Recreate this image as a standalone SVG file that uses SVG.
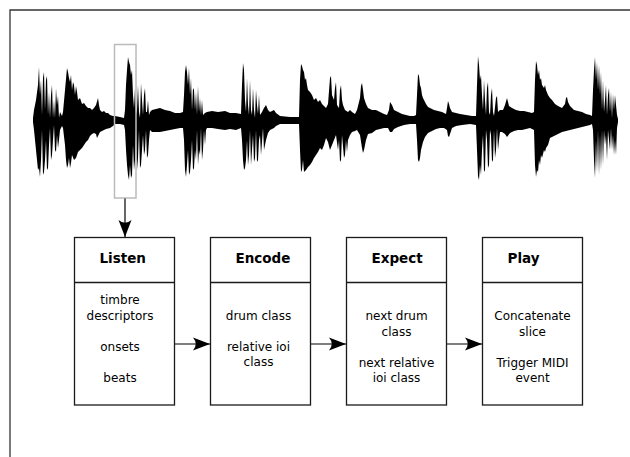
<svg xmlns="http://www.w3.org/2000/svg" width="630" height="457" viewBox="0 0 630 457">
<style>
.frame{fill:none;stroke:#333;stroke-width:1.3}
.box{fill:#fff;stroke:#1a1a1a;stroke-width:1.3}
.div{stroke:#1a1a1a;stroke-width:1.3}
.hdr{font-family:"DejaVu Sans",sans-serif;font-weight:bold;font-size:13.5px;fill:#000}
.body{font-family:"DejaVu Sans",sans-serif;font-size:12px;fill:#000;text-anchor:middle}
.conn{fill:none;stroke:#000;stroke-width:1.2;marker-end:url(#ah)}
.sel{fill:none;stroke:#bbb;stroke-width:1.5}
</style>
<defs>
<marker id="ah" markerUnits="userSpaceOnUse" refX="0" refY="0" markerWidth="40" markerHeight="40" orient="auto" overflow="visible">
<path d="M0,0 L-17,-6.5 Q-11.5,0 -17,6.5 Z" fill="#000"/>
</marker>
</defs>
<rect width="630" height="457" fill="#fff"/>
<path class="frame" d="M10,457 L10,10 L630,10"/>
<g id="waveform">
<path fill="#000" d="M33,118 L34,110 L36,100 L38,85 L39,67 L40,95 L41,80 L42,115 L43,78 L44,72 L45,110 L46,80 L47,76 L48,115 L49,92 L50,118 L51,95 L52,85 L53,118 L54,100 L55,118 L56,88 L57,105 L58,96 L59,118 L60,112 L62,116 L63,112 L65,90 L67,68 L68,72 L69,78 L70,82 L71,75 L72,90 L73,82 L74,85 L75,95 L76,86 L77,92 L78,100 L80,98 L82,104 L84,103 L86,106 L88,108 L90,108 L92,110 L94,108 L96,105 L98,98 L99,105 L100,110 L102,112 L104,111 L106,113 L108,113 L110,115 L113,116 L115,116 L120,117 L124,118 L125,110 L126,85 L127,70 L128,57 L129,62 L130,65 L131,75 L132,70 L133,95 L134,108 L135,88 L136,115 L137,110 L138,85 L139,112 L140,118 L141,83 L142,100 L143,115 L144,95 L145,88 L146,112 L147,112 L148,100 L149,115 L150,112 L152,110 L156,109 L160,108 L165,110 L170,111 L175,113 L180,113 L183,112 L184,95 L185,72 L186,65 L187,72 L188,85 L189,68 L190,95 L191,78 L192,110 L193,88 L194,90 L195,110 L196,92 L197,115 L198,86 L199,112 L200,98 L201,115 L202,100 L203,115 L205,113 L207,112 L212,111 L218,112 L225,111 L230,113 L236,113 L241,114 L242,85 L243,63 L244,70 L245,100 L246,112 L247,78 L248,105 L249,115 L250,80 L251,110 L252,115 L253,88 L254,110 L255,118 L256,90 L257,105 L258,114 L259,95 L260,115 L262,112 L264,108 L266,105 L268,110 L270,112 L274,110 L276,113 L280,116 L290,117 L299,117 L300,80 L301,64 L302,66 L303,70 L304,72 L305,80 L306,78 L307,85 L308,90 L310,92 L312,95 L314,100 L316,98 L318,102 L320,100 L322,104 L324,106 L326,108 L328,104 L330,78 L331,76 L332,95 L334,100 L335,88 L336,82 L337,105 L339,108 L340,90 L341,85 L342,100 L343,105 L345,110 L348,112 L350,110 L352,112 L355,114 L357,110 L360,98 L361,86 L362,83 L363,90 L364,98 L366,104 L368,108 L372,110 L376,110 L380,112 L384,114 L387,115 L389,110 L390,102 L392,105 L394,110 L398,112 L402,114 L406,115 L410,116 L414,116 L416,115 L417,95 L418,74 L419,76 L420,85 L421,88 L422,95 L423,98 L424,100 L426,104 L428,107 L430,108 L434,110 L438,111 L442,112 L446,114 L447,108 L448,101 L449,104 L450,108 L452,112 L456,113 L460,114 L466,115 L472,116 L476,116 L477,85 L478,56 L479,65 L480,80 L481,75 L482,95 L483,110 L484,80 L485,100 L486,115 L487,88 L488,82 L489,112 L490,115 L491,95 L492,88 L493,112 L494,116 L496,98 L497,96 L498,112 L500,110 L503,110 L505,105 L507,98 L509,106 L512,108 L516,110 L520,111 L524,111 L528,112 L532,113 L534,112 L535,80 L536,61 L537,65 L538,75 L539,70 L540,80 L541,78 L542,85 L544,88 L545,85 L546,90 L548,95 L550,98 L552,100 L555,104 L558,106 L562,108 L565,104 L566,98 L567,97 L568,102 L570,106 L574,110 L578,111 L582,112 L586,114 L590,115 L592,116 L593,90 L594,70 L595,57 L596,80 L597,62 L598,90 L599,65 L600,95 L601,72 L602,110 L603,80 L604,112 L605,100 L606,85 L607,115 L608,95 L609,88 L610,112 L611,92 L612,118 L613,94 L614,110 L615,95 L616,105 L617,115 L618,119 L618,122 L617,128 L616,155 L615,140 L614,155 L613,135 L612,150 L611,128 L610,150 L609,140 L608,130 L607,160 L606,135 L605,145 L604,130 L603,165 L602,130 L601,170 L600,135 L599,175 L598,130 L597,172 L596,140 L595,178 L594,160 L593,130 L592,124 L590,125 L586,126 L582,127 L578,128 L574,129 L570,130 L566,131 L562,132 L558,134 L554,136 L550,138 L548,145 L546,148 L545,152 L544,150 L542,158 L541,155 L540,165 L539,160 L538,172 L537,170 L536,177 L535,165 L534,130 L530,128 L526,129 L522,130 L518,130 L514,131 L510,133 L507,137 L505,134 L502,132 L500,132 L499,140 L498,150 L497,128 L496,150 L495,158 L494,130 L493,160 L492,162 L491,135 L490,130 L489,165 L488,168 L487,140 L486,130 L485,170 L484,172 L483,135 L482,150 L481,175 L480,165 L479,180 L478,176 L477,150 L476,125 L470,124 L462,125 L456,126 L452,128 L450,134 L449,137 L448,136 L447,130 L444,128 L440,128 L436,129 L432,131 L428,133 L425,137 L423,142 L421,150 L420,158 L419,162 L418,160 L417,140 L416,124 L410,124 L404,125 L398,127 L394,129 L392,132 L390,132 L388,128 L384,128 L380,129 L376,130 L372,133 L368,134 L366,140 L364,150 L363,153 L362,148 L360,135 L357,130 L355,131 L352,132 L350,135 L348,140 L347,152 L346,140 L345,155 L344,158 L342,135 L341,160 L340,162 L339,140 L338,150 L336,135 L334,140 L332,145 L330,150 L328,142 L326,138 L324,145 L322,150 L320,148 L318,152 L316,155 L314,158 L312,162 L310,165 L308,167 L306,170 L304,172 L303,160 L302,170 L301,172 L300,150 L299,124 L290,124 L280,124 L276,126 L274,128 L270,130 L268,133 L266,140 L265,145 L264,150 L263,128 L262,142 L261,155 L260,135 L259,140 L258,160 L257,162 L256,130 L255,158 L254,162 L253,135 L252,150 L251,165 L250,130 L249,155 L248,165 L247,140 L246,160 L245,168 L244,170 L243,160 L242,140 L241,128 L236,130 L230,129 L225,130 L218,129 L212,128 L207,128 L206,130 L205,145 L204,130 L203,150 L202,160 L201,128 L200,155 L199,150 L198,165 L197,130 L196,160 L195,150 L194,168 L193,170 L192,140 L191,160 L190,172 L189,175 L188,150 L187,165 L186,177 L185,170 L184,140 L183,128 L180,128 L175,129 L170,130 L165,131 L160,132 L156,132 L152,132 L150,130 L149,140 L148,155 L147,158 L146,130 L145,150 L144,155 L143,135 L142,150 L141,165 L140,168 L139,130 L138,158 L137,170 L136,130 L135,160 L134,170 L133,145 L132,175 L131,178 L130,165 L129,180 L128,175 L127,165 L126,150 L125,130 L124,125 L120,124 L115,124 L113,126 L110,128 L106,129 L102,131 L100,132 L98,136 L97,138 L96,134 L94,133 L92,134 L90,136 L88,140 L86,142 L84,145 L82,148 L80,150 L78,152 L76,158 L74,160 L72,155 L71,163 L70,168 L69,158 L68,165 L67,168 L66,160 L65,145 L63,128 L62,126 L60,130 L59,140 L58,148 L57,135 L56,152 L55,150 L54,125 L53,140 L52,155 L51,160 L50,128 L49,145 L48,168 L47,170 L46,140 L45,160 L44,172 L43,175 L42,130 L41,160 L40,177 L39,168 L38,170 L37,160 L36,150 L35,140 L34,130 L33,122 Z"/>
<rect class="sel" x="114.5" y="44.5" width="21.5" height="153.5"/>
</g>
<g id="connectors">
<line class="conn" x1="125" y1="198.5" x2="125" y2="237"/>
<line class="conn" x1="175" y1="344" x2="210" y2="344"/>
<line class="conn" x1="311" y1="344" x2="346" y2="344"/>
<line class="conn" x1="447" y1="344" x2="482" y2="344"/>
</g>
<g id="listen">
<rect class="box" x="74.5" y="237.5" width="100" height="167.5"/>
<line class="div" x1="74.5" y1="282.5" x2="174.5" y2="282.5"/>
<text class="hdr" x="99.5" y="263">Listen</text>
<text class="body" x="120" y="304">timbre</text>
<text class="body" x="120" y="319.5">descriptors</text>
<text class="body" x="120" y="350.5">onsets</text>
<text class="body" x="120" y="381.5">beats</text>
</g>
<g id="encode">
<rect class="box" x="210.5" y="237.5" width="100" height="167.5"/>
<line class="div" x1="210.5" y1="282.5" x2="310.5" y2="282.5"/>
<text class="hdr" x="235.5" y="263">Encode</text>
<text class="body" x="258.5" y="319.5">drum class</text>
<text class="body" x="258.5" y="350.5">relative ioi</text>
<text class="body" x="258.5" y="366">class</text>
</g>
<g id="expect">
<rect class="box" x="346.5" y="237.5" width="100" height="167.5"/>
<line class="div" x1="346.5" y1="282.5" x2="446.5" y2="282.5"/>
<text class="hdr" x="371.5" y="263">Expect</text>
<text class="body" x="396.5" y="320">next drum</text>
<text class="body" x="396.5" y="335.5">class</text>
<text class="body" x="396.5" y="366.5">next relative</text>
<text class="body" x="396.5" y="382">ioi class</text>
</g>
<g id="play">
<rect class="box" x="482.5" y="237.5" width="100" height="167.5"/>
<line class="div" x1="482.5" y1="282.5" x2="582.5" y2="282.5"/>
<text class="hdr" x="507.5" y="263">Play</text>
<text class="body" x="532.5" y="320">Concatenate</text>
<text class="body" x="532.5" y="335.5">slice</text>
<text class="body" x="532.5" y="366.5">Trigger MIDI</text>
<text class="body" x="532.5" y="382">event</text>
</g>
</svg>
